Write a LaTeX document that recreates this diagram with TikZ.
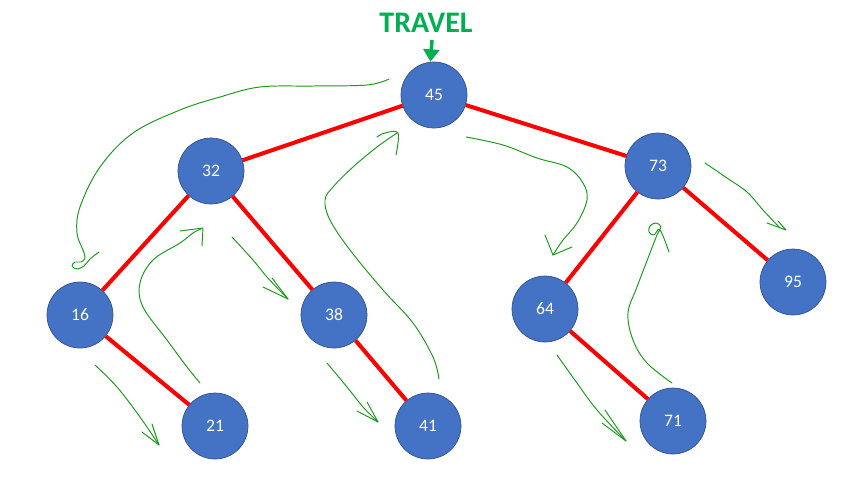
\documentclass[tikz,border=0pt]{standalone}
\usepackage{fontspec}
\setmainfont{Carlito}
\usetikzlibrary{arrows.meta, positioning}

\definecolor{nodeblue}{HTML}{4472C4}
\definecolor{nodeline}{HTML}{2F528F}
\definecolor{titlegreen}{HTML}{00B050}
\definecolor{inkgreen}{HTML}{1A9A1A}

\tikzset{
    treenode/.style={draw=nodeline, line width=0.4pt, fill=nodeblue, circle,
        minimum size=1.32cm, inner sep=0pt, text=white,
        font=\fontsize{10}{12}\selectfont},
    treeedge/.style={red, line width=2.3pt},
    travel/.style={inkgreen, line width=0.55pt, line cap=round, line join=round}
}

\begin{document}
\begin{tikzpicture}[x=0.02cm, y=-0.02cm]
        \useasboundingbox (0,0) rectangle (850,488);

        % nodes
        \node[treenode] (n45) at (434,95) {45};
        \node[treenode] (n32) at (211,171) {32};
        \node[treenode] (n73) at (658,166) {73};
        \node[treenode] (n16) at (80,315) {16};
        \node[treenode] (n38) at (334,315) {38};
        \node[treenode] (n64) at (545,309) {64};
        \node[treenode] (n95) at (793,282) {95};
        \node[treenode] (n21) at (215,426) {21};
        \node[treenode] (n41) at (428,426) {41};
        \node[treenode] (n71) at (673,421) {71};

        % title
        \node[text=titlegreen, font=\fontsize{17}{20}\selectfont\bfseries] (title) at (426,23) {TRAVEL};
        \draw[titlegreen, line width=2pt, -{Triangle[length=7pt, width=9pt]}] (title.south -| n45) ++(-2,1) coordinate (t0) -- ([xshift=-2]n45.north);

        % edges
        \draw[treeedge] (n45) -- (n32);
        \draw[treeedge] (n45) -- (n73);
        \draw[treeedge] (n32) -- (n16);
        \draw[treeedge] (n32) -- (n38);
        \draw[treeedge] (n16) -- (n21);
        \draw[treeedge] (n38) -- (n41);
        \draw[treeedge] (n73) -- (n64);
        \draw[treeedge] (n73) -- (n95);
        \draw[treeedge] (n64) -- (n71);

        % travel strokes
        \draw[travel] plot[smooth, tension=0.6] coordinates {(389,79) (367,85) (313,86) (260,87) (220,97) (180,110)
            (133,133) (100,167) (80,207) (77,233) (83,250) (85,258) (81,262) (75,262) (72,266) (77,269)
            (84,266) (90,259) (99,252)};
        \draw[travel] plot[smooth, tension=0.6] coordinates {(200,383) (187,367) (167,340) (143,307) (140,283)
            (153,260) (180,243) (193,233) (201,229)};
        \draw[travel] (180,231) -- (203,228) -- (202,246);
        \draw[travel] plot[smooth, tension=0.6] coordinates {(232,237) (253,260) (267,277) (288,299)};
        \draw[travel] (263,287) -- (288,299) -- (272,278);
        \draw[travel] plot[smooth, tension=0.6] coordinates {(95,365) (117,387) (140,417) (159,445)};
        \draw[travel] (142,432) -- (159,445) -- (152,424);
        \draw[travel] plot[smooth, tension=0.6] coordinates {(327,363) (347,387) (363,407) (378,422)};
        \draw[travel] (357,411) -- (378,422) -- (367,402);
        \draw[travel] plot[smooth, tension=0.6] coordinates {(439,379) (433,357) (413,323) (383,290) (350,250)
            (330,220) (325,200) (333,187) (353,167) (377,147) (397,133)};
        \draw[travel] plot[smooth, tension=0.6] coordinates {(377,137) (385,133) (398,133) (396,155)};
        \draw[travel] plot[smooth, tension=0.6] coordinates {(466,137) (503,145) (537,158) (567,167) (583,183)
            (587,200) (577,223) (563,240) (553,255)};
        \draw[travel] (545,235) -- (553,255) -- (572,247);
        \draw[travel] plot[smooth, tension=0.6] coordinates {(705,163) (727,178) (747,192) (763,210) (780,228)};
        \draw[travel] (767,223) -- (786,230) -- (778,221);
        \draw[travel] plot[smooth, tension=0.6] coordinates {(557,355) (577,383) (597,410) (626,441)};
        \draw[travel] (602,423) -- (626,441) -- (605,410);
        \draw[travel] plot[smooth, tension=0.6] coordinates {(672,383) (647,363) (633,340) (628,313) (637,287)
            (650,253) (657,235) (661,227) (656,223) (650,226) (649,232) (654,235) (660,230) (669,252)};

\end{tikzpicture}
\end{document}
